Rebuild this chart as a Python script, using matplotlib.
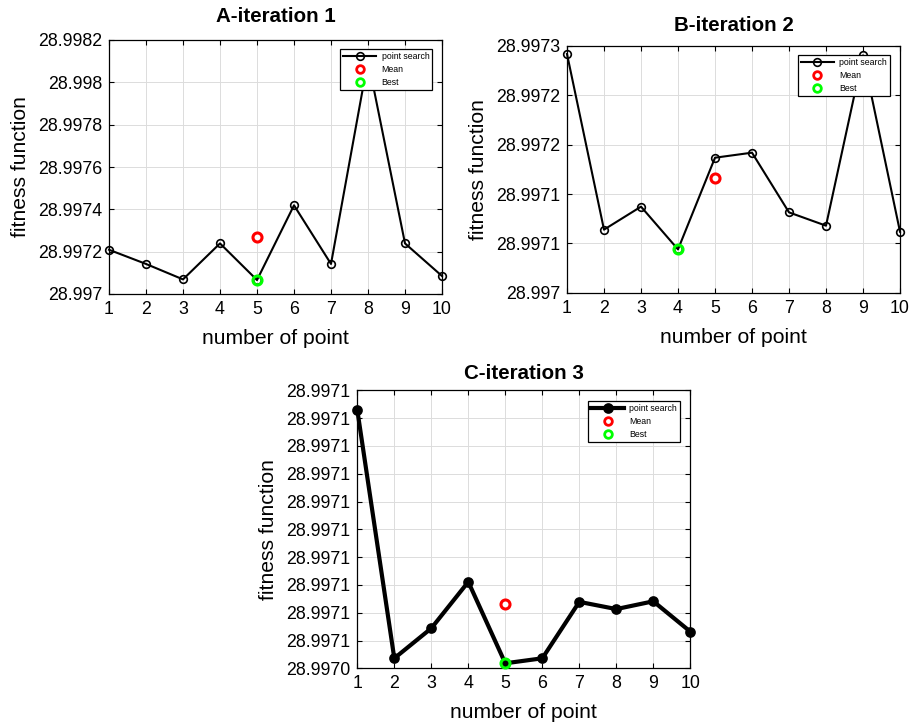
import matplotlib
matplotlib.use("Agg")
import matplotlib.pyplot as plt
from matplotlib.lines import Line2D

plt.rcParams['font.family'] = ['Liberation Sans', 'DejaVu Sans']

x_points = [1, 2, 3, 4, 5, 6, 7, 8, 9, 10]

# Iteration 1
fit_A = [28.997209, 28.997142, 28.997069, 28.997239, 28.997066,
         28.997419, 28.997142, 28.998105, 28.997239, 28.997085]
mean_A = 28.997271
best_A_x, best_A = 5, 28.997066
yticks_A = [28.9970, 28.9972, 28.9974, 28.9976, 28.9978, 28.9980, 28.9982]
yticklabels_A = ["28.997", "28.9972", "28.9974", "28.9976", "28.9978", "28.998", "28.9982"]
ylim_A = (28.9970, 28.9982)

# Iteration 2
fit_B = [28.9972419, 28.9970639, 28.9970872, 28.9970439, 28.9971368,
         28.9971419, 28.9970814, 28.9970679, 28.9972405, 28.9970618]
mean_B = 28.9971165
best_B_x, best_B = 4, 28.9970439
yticks_B = [28.99700, 28.99705, 28.99710, 28.99715, 28.99720, 28.99725]
yticklabels_B = ["28.997", "28.9971", "28.9971", "28.9972", "28.9972", "28.9973"]
ylim_B = (28.99700, 28.99725)

# Iteration 3
fit_C = [28.9971329, 28.9970436, 28.9970544, 28.9970711, 28.9970418,
         28.9970436, 28.9970639, 28.9970613, 28.9970641, 28.9970532]
mean_C = 28.9970630
best_C_x, best_C = 5, 28.9970418
yticks_C = [28.99704, 28.99705, 28.99706, 28.99707, 28.99708, 28.99709,
            28.99710, 28.99711, 28.99712, 28.99713, 28.99714]
yticklabels_C = ["28.9970"] + ["28.9971"] * 10
ylim_C = (28.99704, 28.99714)

titles = ["A-iteration 1", "B-iteration 2", "C-iteration 3"]

fig = plt.figure(figsize=(9.16, 7.24), dpi=100)

panels = [
    dict(rect=[109/916, 1-294/724, 333/916, 254/724], y=fit_A, mean=mean_A,
         bx=best_A_x, best=best_A, yt=yticks_A, ytl=yticklabels_A, ylim=ylim_A,
         lw=1.5, filled=False, ms=5.5, pad=13, leg=(0.971, 0.963)),
    dict(rect=[567/916, 1-292.7/724, 333/916, 246.7/724], y=fit_B, mean=mean_B,
         bx=best_B_x, best=best_B, yt=yticks_B, ytl=yticklabels_B, ylim=ylim_B,
         lw=1.5, filled=False, ms=5.5, pad=11, leg=(0.970, 0.962)),
    dict(rect=[357.3/916, 1-668.3/724, 333/916, 278/724], y=fit_C, mean=mean_C,
         bx=best_C_x, best=best_C, yt=yticks_C, ytl=yticklabels_C, ylim=ylim_C,
         lw=3.0, filled=True, ms=6.5, pad=8, leg=(0.970, 0.961)),
]

for p, title in zip(panels, titles):
    ax = fig.add_axes(p['rect'])
    mfc = 'black' if p['filled'] else 'none'
    ax.plot(x_points, p['y'], color='black', lw=p['lw'], marker='o',
            ms=p['ms'], mfc=mfc, mec='black', mew=1.2, zorder=3, clip_on=False)
    ax.plot([5], [p['mean']], linestyle='none', marker='o', ms=6.5,
            mfc='white', mec='#ff0000', mew=2.2, zorder=4)
    ax.plot([p['bx']], [p['best']], linestyle='none', marker='o', ms=6.5,
            mfc='none', mec='#00ff00', mew=2.2, zorder=4, clip_on=False)
    ax.set_xlim(1, 10)
    ax.set_ylim(*p['ylim'])
    ax.set_xticks(x_points)
    ax.set_xticklabels([str(v) for v in x_points])
    ax.set_yticks(p['yt'])
    ax.set_yticklabels(p['ytl'])
    ax.tick_params(direction='in', length=3.5, width=0.8, labelsize=12.8,
                   top=True, right=True, pad=5, colors='black')
    ax.grid(True, color='#dcdcdc', linewidth=0.7)
    ax.set_axisbelow(True)
    for s in ax.spines.values():
        s.set_linewidth(0.9)
        s.set_color('black')
    ax.set_xlabel("number of point", fontsize=15.2, labelpad=8)
    ax.set_ylabel("fitness function", fontsize=15.2, labelpad=6)
    ax.set_title(title, fontsize=14.8, fontweight='bold', pad=p['pad'])

    h1 = Line2D([], [], color='black', lw=p['lw'], marker='o', ms=p['ms'],
                mfc=mfc, mec='black', mew=1.2)
    h2 = Line2D([], [], linestyle='none', marker='o', ms=5.5, mfc='white',
                mec='#ff0000', mew=2.0)
    h3 = Line2D([], [], linestyle='none', marker='o', ms=5.5, mfc='white',
                mec='#00ff00', mew=2.0)
    leg = ax.legend([h1, h2, h3], ["point search", "Mean", "Best"],
                    loc='upper right', bbox_to_anchor=p['leg'],
                    fontsize=6.3, frameon=True, fancybox=False, framealpha=1,
                    edgecolor='black', handlelength=3.8, borderpad=0.35,
                    labelspacing=0.45, handletextpad=0.6, borderaxespad=0)
    leg.get_frame().set_linewidth(0.9)
    leg.set_zorder(10)

fig.savefig("out.png", dpi=100)
